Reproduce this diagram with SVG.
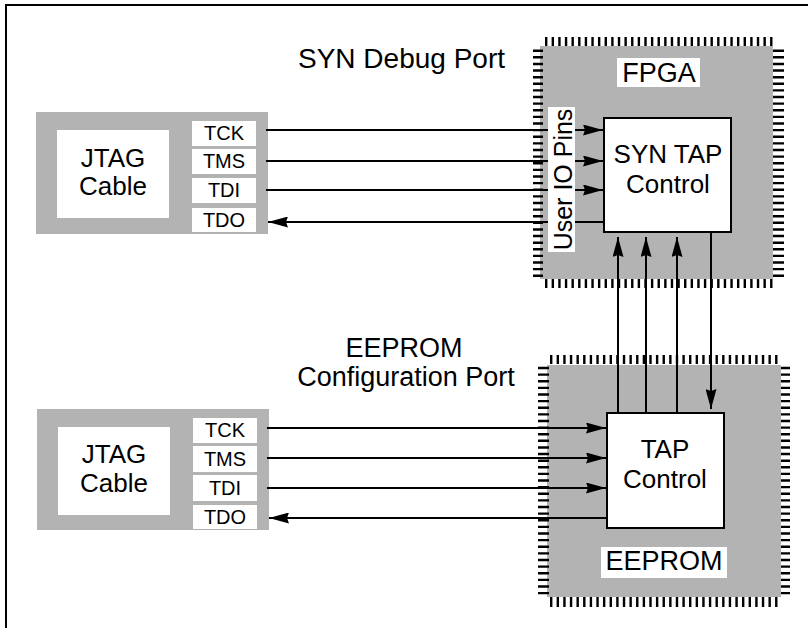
<svg xmlns="http://www.w3.org/2000/svg" width="808" height="628" viewBox="0 0 808 628">
<defs>
<style>
.bg{fill:#b3b3b3}
.wb{fill:#fff}
.box{fill:#fff;stroke:#000;stroke-width:2}
.pins{stroke:#000;stroke-dasharray:2.4 4.22;fill:none}
.t{font-family:"Liberation Sans",Arial,Helvetica,sans-serif;fill:#000}
.big{font-size:27px}
.mid{font-size:26px}
.pin{font-size:20px}
.c{text-anchor:middle}
.a{stroke:#000;stroke-width:2;fill:none;marker-end:url(#ah)}
</style>
<marker id="ah" markerUnits="userSpaceOnUse" markerWidth="20" markerHeight="11" refX="20" refY="5.5" orient="auto" viewBox="0 0 20 11">
<path d="M0,0 L20,5.5 L0,11 L2,5.5 z" fill="#000"/>
</marker>
</defs>
<path d="M6,628 V5 H808" fill="none" stroke="#000" stroke-width="2"/>

<g id="label-syn-debug-port">
<text class="t" x="298" y="68" font-size="28">SYN Debug Port</text>
</g>
<g id="label-eeprom-config-port">
<text class="t big c" x="404" y="357">EEPROM</text>
<text class="t big c" x="406" y="386">Configuration Port</text>
</g>

<g id="fpga">
<rect class="bg" x="540" y="46" width="233" height="233"/>
<line class="pins" x1="545" y1="41.5" x2="773" y2="41.5" stroke-width="9"/>
<line class="pins" x1="545" y1="283.5" x2="773" y2="283.5" stroke-width="9"/>
<line class="pins" x1="538" y1="49.5" x2="538" y2="278" stroke-width="10"/>
<line class="pins" x1="778.5" y1="49.5" x2="778.5" y2="278" stroke-width="11"/>
<rect class="wb" x="617" y="58" width="83" height="29"/>
<text class="t big c" x="659" y="82">FPGA</text>
</g>
<g id="syn-tap-control">
<rect class="box" x="604" y="118" width="127" height="114"/>
<text class="t mid c" x="668" y="163">SYN TAP</text>
<text class="t mid c" x="668" y="193">Control</text>
</g>

<g id="eeprom">
<rect class="bg" x="547" y="365" width="234" height="232"/>
<line class="pins" x1="550" y1="359.5" x2="781" y2="359.5" stroke-width="9"/>
<line class="pins" x1="550" y1="602" x2="781" y2="602" stroke-width="10"/>
<line class="pins" x1="543.5" y1="366.8" x2="543.5" y2="597" stroke-width="11"/>
<line class="pins" x1="785.5" y1="366.8" x2="785.5" y2="597" stroke-width="9"/>
<rect class="wb" x="601" y="547" width="126" height="31"/>
<text class="t big c" x="664" y="570">EEPROM</text>
</g>
<g id="tap-control">
<rect class="box" x="607" y="413" width="117" height="115"/>
<text class="t mid c" x="665" y="458">TAP</text>
<text class="t mid c" x="665" y="488">Control</text>
</g>

<g id="jtag-cable-1">
<rect class="bg" x="36" y="112" width="232" height="122"/>
<rect class="wb" x="57" y="130" width="112" height="88"/>
<text class="t mid c" x="113" y="167">JTAG</text>
<text class="t mid c" x="113" y="195">Cable</text>
<rect class="wb" x="192" y="121" width="64" height="25"/>
<text class="t pin c" x="224" y="140">TCK</text>
<rect class="wb" x="192" y="149" width="64" height="25"/>
<text class="t pin c" x="224" y="168">TMS</text>
<rect class="wb" x="192" y="178" width="64" height="25"/>
<text class="t pin c" x="224" y="197">TDI</text>
<rect class="wb" x="192" y="208" width="64" height="24"/>
<text class="t pin c" x="224" y="227">TDO</text>
</g>

<g id="jtag-cable-2">
<rect class="bg" x="37" y="409" width="232" height="121"/>
<rect class="wb" x="58" y="427" width="112" height="88"/>
<text class="t mid c" x="114" y="463">JTAG</text>
<text class="t mid c" x="114" y="492">Cable</text>
<rect class="wb" x="193" y="418" width="64" height="25"/>
<text class="t pin c" x="225" y="437">TCK</text>
<rect class="wb" x="193" y="446" width="64" height="26"/>
<text class="t pin c" x="225" y="466">TMS</text>
<rect class="wb" x="193" y="475" width="64" height="26"/>
<text class="t pin c" x="225" y="495">TDI</text>
<rect class="wb" x="193" y="505" width="64" height="24"/>
<text class="t pin c" x="225" y="524">TDO</text>
</g>

<g id="connectors">
<line class="a" x1="266" y1="130" x2="603" y2="130"/>
<line class="a" x1="266" y1="161" x2="603" y2="161"/>
<line class="a" x1="266" y1="190" x2="603" y2="190"/>
<line class="a" x1="603" y1="222" x2="268" y2="222"/>
<line class="a" x1="267" y1="428" x2="606" y2="428"/>
<line class="a" x1="267" y1="458" x2="606" y2="458"/>
<line class="a" x1="267" y1="488" x2="606" y2="488"/>
<line class="a" x1="606" y1="518" x2="269" y2="518"/>
<line class="a" x1="618" y1="412" x2="618" y2="237"/>
<line class="a" x1="646" y1="412" x2="646" y2="237"/>
<line class="a" x1="677" y1="412" x2="677" y2="237"/>
<line class="a" x1="711" y1="233" x2="711" y2="409"/>
</g>

<g id="user-io-pins">
<rect class="wb" x="548" y="107" width="27" height="145"/>
<text class="t c" font-size="25" transform="translate(571.5,179.5) rotate(-90)">User IO Pins</text>
</g>
</svg>
